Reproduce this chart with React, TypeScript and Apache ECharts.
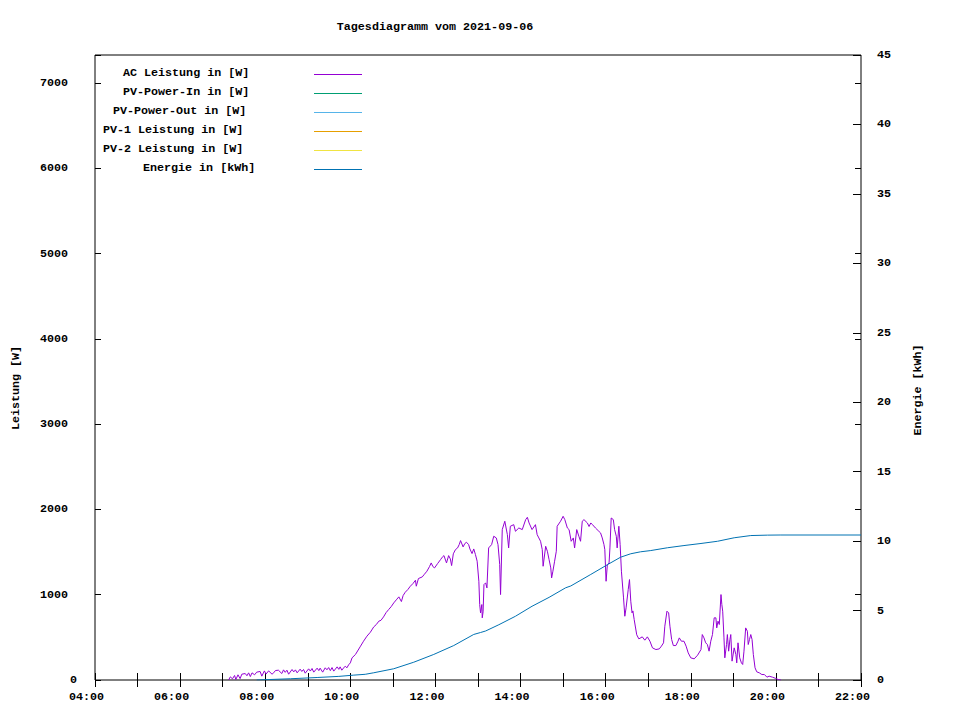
import React, { useEffect, useRef } from 'react';
import * as echarts from 'echarts';

const FONT = '"Liberation Mono", "DejaVu Sans Mono", monospace';
const FS = 11.7;

const chartTitle = 'Tagesdiagramm vom 2021-09-06';
const leftAxisName = 'Leistung [W]';
const rightAxisName = 'Energie [kWh]';

const seriesNames = [
  'AC Leistung in [W]',
  'PV-Power-In in [W]',
  'PV-Power-Out in [W]',
  'PV-1 Leistung in [W]',
  'PV-2 Leistung in [W]',
  'Energie in [kWh]',
];
const seriesColors = ['#9400d3', '#009e73', '#56b4e9', '#e69f00', '#f0e442', '#0072b2'];

// x axis: hours of the day
const xMin = 4;
const xMax = 22;
const leftMax = 7330;
const rightMax = 45;

// AC Leistung [W] over time (decimal hours)
const acTime = [
  7.14, 7.18, 7.23, 7.28, 7.31, 7.36, 7.41, 7.45, 7.53, 7.57, 7.61, 7.65, 7.69, 7.75, 7.80, 7.88, 7.92, 7.98,
  8.02, 8.08, 8.16, 8.20, 8.24, 8.31, 8.39, 8.43, 8.47, 8.51, 8.55, 8.63, 8.67, 8.71, 8.75, 8.82, 8.86, 8.90,
  8.94, 9.02, 9.06, 9.10, 9.14, 9.22, 9.26, 9.29, 9.35, 9.41, 9.45, 9.49, 9.53, 9.57, 9.61, 9.69, 9.73, 9.76,
  9.80, 9.84, 9.88, 9.92, 9.96, 10.0, 10.04, 10.12, 10.24, 10.31, 10.39, 10.47, 10.55, 10.61, 10.67, 10.72,
  10.78, 10.84, 10.90, 10.96, 11.02, 11.08, 11.14, 11.20, 11.24, 11.29, 11.35, 11.41, 11.47, 11.53, 11.55,
  11.60, 11.69, 11.74, 11.80, 11.86, 11.90, 11.94, 11.98, 12.05, 12.12, 12.16, 12.20, 12.26, 12.31, 12.35,
  12.38, 12.42, 12.47, 12.52, 12.56, 12.59, 12.65, 12.69, 12.73, 12.78, 12.81, 12.86, 12.90, 12.94, 12.98,
  13.02, 13.04, 13.06, 13.09, 13.10, 13.12, 13.14, 13.18, 13.21, 13.25, 13.32, 13.37, 13.43, 13.47, 13.51,
  13.53, 13.57, 13.63, 13.69, 13.72, 13.76, 13.84, 13.88, 13.96, 14.04, 14.12, 14.16, 14.20, 14.27, 14.35,
  14.39, 14.43, 14.47, 14.51, 14.53, 14.59, 14.63, 14.67, 14.71, 14.73, 14.76, 14.80, 14.84, 14.86, 14.94,
  15.00, 15.04, 15.10, 15.14, 15.19, 15.24, 15.27, 15.32, 15.37, 15.41, 15.45, 15.49, 15.57, 15.61, 15.65,
  15.69, 15.76, 15.84, 15.88, 15.92, 15.96, 15.98, 16.01, 16.04, 16.08, 16.10, 16.13, 16.18, 16.21, 16.25,
  16.27, 16.31, 16.34, 16.37, 16.42, 16.45, 16.48, 16.53, 16.56, 16.59, 16.62, 16.64, 16.67, 16.73, 16.78,
  16.86, 16.92, 16.98, 17.04, 17.10, 17.18, 17.26, 17.31, 17.36, 17.39, 17.44, 17.48, 17.51, 17.55, 17.59,
  17.65, 17.70, 17.73, 17.78, 17.84, 17.89, 17.94, 18.00, 18.08, 18.16, 18.24, 18.27, 18.31, 18.35, 18.39,
  18.43, 18.47, 18.51, 18.55, 18.59, 18.61, 18.64, 18.67, 18.71, 18.73, 18.75, 18.78, 18.80, 18.84, 18.86,
  18.89, 18.92, 18.94, 18.97, 19.02, 19.06, 19.08, 19.11, 19.15, 19.19, 19.22, 19.25, 19.29, 19.33, 19.35,
  19.38, 19.41, 19.44, 19.47, 19.51, 19.55, 19.61, 19.67, 19.73, 19.79, 19.84, 19.92, 20.00, 20.05, 20.12,
];
const acPower = [
  0, 37, 14, 53, 6, 61, 16, 68, 76, 50, 84, 40, 84, 61, 92, 100, 45, 107,
  70, 107, 68, 85, 111, 115, 76, 119, 90, 115, 68, 123, 95, 119, 84, 127, 100, 123,
  80, 131, 105, 135, 92, 139, 110, 139, 92, 143, 120, 146, 110, 146, 104, 154, 125, 154,
  115, 140, 162, 143, 178, 201, 260, 299, 397, 455, 514, 560, 623, 650, 690, 700,
  740, 790, 826, 860, 904, 940, 975, 920, 990, 1029, 1060, 1100, 1130, 1170, 1100,
  1190, 1209, 1240, 1276, 1330, 1373, 1330, 1315, 1365, 1412, 1440, 1459, 1373, 1459, 1420,
  1342, 1480, 1529, 1549, 1590, 1635, 1561, 1600, 1615, 1588, 1537, 1483, 1537, 1471, 1393,
  1158, 885, 787, 885, 729, 800, 1119, 1139, 1080, 1549, 1588, 1686, 1666, 1588, 1354,
  1002, 1764, 1862, 1705, 1549, 1803, 1822, 1744, 1783, 1764, 1881, 1908, 1842, 1764, 1822,
  1705, 1666, 1627, 1529, 1334, 1568, 1510, 1412, 1315, 1197, 1276, 1393, 1510, 1803, 1862,
  1920, 1881, 1783, 1764, 1627, 1666, 1549, 1764, 1686, 1627, 1862, 1881, 1842, 1800, 1842,
  1822, 1783, 1744, 1725, 1666, 1588, 1529, 1158, 1354, 1373, 1549, 1900, 1881, 1764, 1686,
  1549, 1803, 1588, 1276, 963, 748, 846, 1061, 1178, 924, 787, 810, 709, 530, 482,
  506, 467, 506, 455, 377, 357, 365, 397, 436, 631, 807, 787, 631, 475, 404,
  404, 455, 494, 455, 455, 397, 318, 260, 248, 291, 357, 533, 494, 436, 416,
  338, 455, 533, 729, 729, 611, 690, 651, 1002, 885, 807, 494, 260, 416, 533,
  338, 475, 533, 221, 377, 299, 201, 436, 260, 201, 182, 338, 611, 572, 416,
  475, 533, 475, 299, 143, 96, 84, 64, 64, 33, 45, 33, 18, 6, 0,
];

// Energie [kWh] over time (decimal hours)
const energyTime = [
  7.80, 8.59, 9.22, 9.73, 10.08, 10.35, 10.55, 11.02, 11.49, 11.96, 12.43, 12.90, 13.06, 13.18, 13.49,
  13.88, 14.27, 14.67, 15.06, 15.18, 15.65, 16.04, 16.35, 16.59, 16.82, 17.06, 17.45, 17.84, 18.24,
  18.63, 19.02, 19.41, 19.80, 20.10, 22.0,
];
const energyKwh = [
  0, 0.09, 0.18, 0.26, 0.35, 0.41, 0.52, 0.81, 1.28, 1.84, 2.48, 3.28, 3.42, 3.53, 3.98,
  4.59, 5.31, 5.95, 6.64, 6.77, 7.6, 8.3, 8.84, 9.09, 9.23, 9.32, 9.52, 9.68, 9.83,
  9.99, 10.24, 10.4, 10.43, 10.44, 10.44,
];

const emptySeries: number[][] = [];

const zip = (xs: number[], ys: number[]) => xs.map((x, i) => [x, ys[i]]);
const pad2 = (n: number) => (n < 10 ? '0' + n : '' + n);

export default function App() {
  const ref = useRef<HTMLDivElement>(null);

  useEffect(() => {
    if (!ref.current) return;
    const chart = echarts.init(ref.current, null, { renderer: 'svg' });

    const baseText = { fontFamily: FONT, fontSize: FS, fontWeight: 'bold' as const, color: '#000' };
    const tick = (len: number) => ({ show: true, inside: true, length: len, lineStyle: { color: '#000', width: 1 } });

    const legendX = [123, 123, 113, 103, 103, 143];
    const legendGraphics: any[] = [];
    seriesNames.forEach((name, i) => {
      const yLine = 74.5 + i * 19;
      legendGraphics.push({
        type: 'text',
        x: legendX[i],
        y: yLine - 2,
        style: {
          text: name,
          font: `bold ${FS}px ${FONT}`,
          fill: '#000',
          align: 'left',
          verticalAlign: 'middle',
        },
      });
      legendGraphics.push({
        type: 'line',
        shape: { x1: 314, y1: yLine, x2: 362, y2: yLine },
        style: { stroke: seriesColors[i], lineWidth: 1 },
      });
    });

    const seriesData = [
      zip(acTime, acPower),
      emptySeries,
      emptySeries,
      emptySeries,
      emptySeries,
      zip(energyTime, energyKwh),
    ];

    const option: any = {
      animation: false,
      backgroundColor: '#fff',
      grid: {
        left: 95,
        right: 99,
        top: 55,
        bottom: 40,
        show: true,
        borderColor: '#000',
        borderWidth: 1,
        backgroundColor: 'transparent',
      },
      xAxis: [
        {
          type: 'value',
          min: xMin,
          max: xMax,
          interval: 1,
          axisLine: { show: false },
          axisTick: tick(7),
          splitLine: { show: false },
          axisLabel: {
            ...baseText,
            margin: 11,
            padding: [0, 17, 0, 0],
            formatter: (v: number) => (v % 2 === 0 ? pad2(v) + ':00' : ''),
          },
        },
        {
          type: 'value',
          position: 'top',
          min: xMin,
          max: xMax,
          interval: 1,
          axisLine: { show: false },
          axisTick: tick(7),
          splitLine: { show: false },
          axisLabel: { show: false },
        },
      ],
      yAxis: [
        {
          type: 'value',
          position: 'left',
          min: 0,
          max: leftMax,
          interval: 1000,
          axisLine: { show: false },
          axisTick: tick(6),
          splitLine: { show: false },
          axisLabel: {
            ...baseText,
            margin: 18,
            formatter: (v: number) => (v % 1000 !== 0 ? '' : v === 0 ? '0' : `{n|${v}}`),
            rich: {
              n: { fontFamily: FONT, fontSize: FS, fontWeight: 'bold', color: '#000', padding: [0, 9, 0, 0] },
            },
          },
        },
        {
          type: 'value',
          position: 'right',
          min: 0,
          max: rightMax,
          interval: 5,
          axisLine: { show: false },
          axisTick: tick(8),
          splitLine: { show: false },
          axisLabel: { ...baseText, margin: 16 },
        },
        {
          type: 'value',
          position: 'right',
          min: 0,
          max: leftMax,
          interval: 1000,
          axisLine: { show: false },
          axisTick: tick(6),
          splitLine: { show: false },
          axisLabel: { show: false },
        },
      ],
      series: seriesNames.map((name, i) => ({
        name,
        type: 'line',
        xAxisIndex: 0,
        yAxisIndex: i === 5 ? 1 : 0,
        data: seriesData[i],
        showSymbol: false,
        symbol: 'none',
        lineStyle: { color: seriesColors[i], width: 1 },
        itemStyle: { color: seriesColors[i] },
        z: i === 5 ? 3 : 2,
      })),
      graphic: [
        {
          type: 'text',
          x: 435,
          y: 27,
          style: {
            text: chartTitle,
            font: `bold ${FS}px ${FONT}`,
            fill: '#000',
            align: 'center',
            verticalAlign: 'middle',
          },
        },
        {
          type: 'text',
          x: 16,
          y: 388,
          rotation: Math.PI / 2,
          style: {
            text: leftAxisName,
            font: `bold ${FS}px ${FONT}`,
            fill: '#000',
            align: 'center',
            verticalAlign: 'middle',
          },
        },
        {
          type: 'text',
          x: 918,
          y: 390,
          rotation: Math.PI / 2,
          style: {
            text: rightAxisName,
            font: `bold ${FS}px ${FONT}`,
            fill: '#000',
            align: 'center',
            verticalAlign: 'middle',
          },
        },
        ...legendGraphics,
      ],
    };

    chart.setOption(option);
    return () => chart.dispose();
  }, []);

  return (
    <div
      ref={ref}
      style={{ position: 'fixed', left: 0, top: 0, width: 960, height: 720, background: '#fff' }}
    />
  );
}
